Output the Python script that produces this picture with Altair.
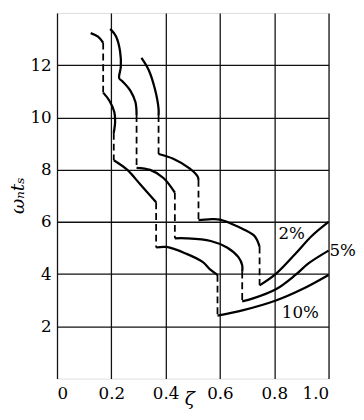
import altair as alt
import pandas as pd

# ---- data ----
# 10 % tolerance band: solid pieces
p10_x = [[0.124, 0.151, 0.170],
         [0.170, 0.193, 0.211, 0.214, 0.209],
         [0.209, 0.259, 0.307, 0.365],
         [0.365, 0.404, 0.476, 0.536, 0.566, 0.591],
         [0.591, 0.686, 0.806, 0.902, 1.0]]
p10_y = [[13.23, 13.09, 12.86],
         [10.95, 10.64, 10.21, 9.84, 9.41],
         [8.36, 7.99, 7.43, 6.75],
         [5.02, 5.04, 4.78, 4.47, 4.16, 3.97],
         [2.41, 2.62, 2.99, 3.42, 3.97]]
# 5 % tolerance band
p5_x = [[0.196, 0.217, 0.232, 0.235, 0.229, 0.241, 0.271, 0.289, 0.293],
        [0.293, 0.343, 0.392, 0.434],
        [0.434, 0.476, 0.566, 0.626, 0.668, 0.682, 0.682],
        [0.682, 0.722, 0.806, 0.878, 0.926, 1.0]]
p5_y = [[13.39, 13.11, 12.55, 11.94, 11.50, 11.38, 11.01, 10.58, 10.09],
        [8.07, 7.99, 7.68, 7.12],
        [5.37, 5.37, 5.27, 5.02, 4.65, 4.34, 4.10],
        [2.96, 3.07, 3.42, 3.97, 4.41, 4.90]]
# 2 % tolerance band
p2_x = [[0.311, 0.338, 0.361, 0.374, 0.374],
        [0.374, 0.428, 0.488, 0.518, 0.521],
        [0.521, 0.560, 0.600, 0.644, 0.686, 0.728, 0.746],
        [0.746, 0.806, 0.878, 0.938, 1.0]]
p2_y = [[12.28, 11.81, 11.07, 10.33, 10.09],
        [8.60, 8.42, 8.05, 7.74, 7.61],
        [6.07, 6.10, 6.09, 5.92, 5.72, 5.45, 5.05],
        [3.57, 4.01, 4.78, 5.46, 6.00]]

label_text = ["2%", "5%", "10%"]
label_x = [0.864, 1.052, 0.896]
label_y = [5.52, 4.90, 2.49]

x_ticks = [0, 0.2, 0.4, 0.6, 0.8, 1.0]
y_ticks = [2, 4, 6, 8, 10, 12]

# ---- build tables ----
solid_rows, dash_rows = [], []
for name, xs, ys in [("10", p10_x, p10_y), ("5", p5_x, p5_y), ("2", p2_x, p2_y)]:
    for s, (sx, sy) in enumerate(zip(xs, ys)):
        for i, (a, b) in enumerate(zip(sx, sy)):
            solid_rows.append({"x": a, "y": b, "seg": f"{name}-{s}", "i": i})
        if s < len(xs) - 1:
            xe = sx[-1]
            dash_rows.append({"x": xe, "y": sy[-1], "seg": f"{name}-d{s}", "i": 0})
            dash_rows.append({"x": xe, "y": ys[s + 1][0], "seg": f"{name}-d{s}", "i": 1})

solid = pd.DataFrame(solid_rows)
dashed = pd.DataFrame(dash_rows)
labels = pd.DataFrame({"x": label_x, "y": label_y, "t": label_text})

FONT = "DejaVu Serif"

xenc = alt.X("x:Q", scale=alt.Scale(domain=[0, 1], nice=False),
             axis=alt.Axis(values=x_ticks, ticks=False, domain=False,
                           labelExpr="datum.value == 0 ? '0' : format(datum.value, '.1f')",
                           labelFont=FONT, labelFontSize=17, labelColor="black",
                           labelPadding=7, grid=True, gridColor="#111", gridWidth=1.3,
                           title="ζ", titleFont=FONT, titleFontSize=19, titleFontStyle="italic",
                           titleFontWeight="normal", titleColor="black",
                           titleX=135, titleY=20, titleBaseline="middle", titleAlign="center"))
yenc = alt.Y("y:Q", scale=alt.Scale(domain=[0, 14], nice=False),
             axis=alt.Axis(values=y_ticks, ticks=False, domain=False,
                           labelFont=FONT, labelFontSize=17, labelColor="black",
                           labelPadding=6, grid=True, gridColor="#111", gridWidth=1.3,
                           title="ωₙtₛ", titleFont=FONT, titleFontSize=19, titleFontStyle="italic",
                           titleFontWeight="normal", titleColor="black",
                           titleAngle=270, titleX=-40, titleY=186,
                           titleBaseline="middle", titleAlign="center"))

solid_layer = alt.Chart(solid).mark_line(color="black", strokeWidth=2.3,
                                         interpolate="catmull-rom").encode(
    x=xenc, y=yenc, detail="seg:N", order="i:Q")
dash_layer = alt.Chart(dashed).mark_line(color="black", strokeWidth=1.8,
                                         strokeDash=[7, 4]).encode(
    x="x:Q", y="y:Q", detail="seg:N", order="i:Q")
text_layer = alt.Chart(labels).mark_text(font=FONT, fontSize=17, color="black").encode(
    x="x:Q", y="y:Q", text="t:N")

chart = alt.layer(solid_layer, dash_layer, text_layer).properties(
    width=277, height=373,
    autosize=alt.AutoSizeParams(type="none"),
    padding={"left": 50, "top": 1, "right": 28, "bottom": 30},
).configure_view(stroke="black", strokeWidth=1.5).configure(background="white")

chart.save("out.html", embed_options={"renderer": "svg", "actions": False})
